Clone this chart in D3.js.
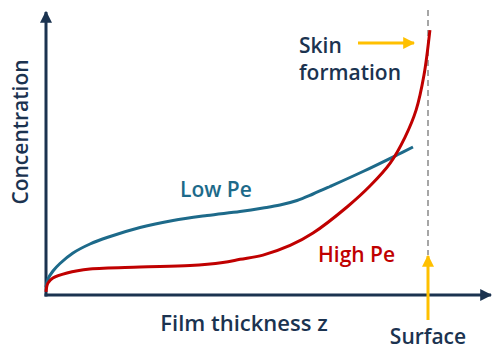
<!DOCTYPE html>
<html>
<head>
<meta charset="utf-8">
<script src="https://cdn.jsdelivr.net/npm/d3@7"></script>
<style>
  body { margin: 0; background: #fff; }
  text { font-family: "Open Sans", "Noto Sans", sans-serif; font-weight: 600; }
</style>
</head>
<body>
<div id="container"></div>
<script>
// film depth (0 = substrate, 100 = surface) vs relative concentration
let lowPeX = [0, 0.52, 1.83, 3.66, 7.07, 11.52, 15.97, 24.61, 33.25, 42.15, 50.79, 56.81, 61.26, 65.71, 69.9, 74.35, 82.98, 91.88, 96.07];
let lowPeY = [2.83, 5.65, 8.48, 11.13, 14.84, 18.02, 20.32, 23.85, 26.33, 28.09, 29.51, 30.74, 31.8, 33.39, 35.69, 38.34, 43.64, 49.47, 52.3];
let highPeX = [0, 0.5, 1.8, 5.5, 11.5, 24.6, 37.7, 46.3, 50.8, 56.8, 63.9, 69.9, 78.8, 84.8, 90.1, 94, 96.9, 98.95, 100.5];
let highPeY = [1.1, 4.2, 6, 7.8, 9.2, 9.9, 10.4, 11.5, 12.6, 14.1, 17.5, 21.9, 31.1, 38.5, 46.6, 55.8, 65.4, 77.7, 93.6];
let surfaceX = 100;

let w = 500;
let h = 363;

let navy = "#1b3350";
let blue = "#1d6a8a";
let red = "#c00000";
let yellow = "#ffc000";

let x = d3.scaleLinear().domain([0, 100]).range([46, 428]);
let y = d3.scaleLinear().domain([0, 100]).range([295, 12]);

let viz = d3.select("#container")
  .append("svg")
  .attr("width", w)
  .attr("height", h);

let defs = viz.append("defs");
function arrowHead(id, color) {
  defs.append("marker")
    .attr("id", id)
    .attr("viewBox", "0 0 10 10")
    .attr("refX", 9)
    .attr("refY", 5)
    .attr("markerWidth", 4)
    .attr("markerHeight", 4)
    .attr("markerUnits", "strokeWidth")
    .attr("orient", "auto")
    .append("path")
    .attr("d", "M0,0 L10,5 L0,10 Z")
    .attr("fill", color);
}
arrowHead("navyArrow", navy);
arrowHead("yellowArrow", yellow);

// surface dashed line
viz.append("line")
  .attr("x1", x(surfaceX)).attr("x2", x(surfaceX))
  .attr("y1", 10).attr("y2", 255)
  .attr("stroke", "#a6a6a6")
  .attr("stroke-width", 2)
  .attr("stroke-dasharray", "6,4");

// axes
viz.append("line")
  .attr("x1", x(0)).attr("y1", y(0) + 1.5)
  .attr("x2", x(0)).attr("y2", 12)
  .attr("stroke", navy).attr("stroke-width", 3)
  .attr("marker-end", "url(#navyArrow)");
viz.append("line")
  .attr("x1", x(0) - 1.5).attr("y1", y(0))
  .attr("x2", 491).attr("y2", y(0))
  .attr("stroke", navy).attr("stroke-width", 3)
  .attr("marker-end", "url(#navyArrow)");

let line = d3.line()
  .x(d => x(d[0]))
  .y(d => y(d[1]))
  .curve(d3.curveCatmullRom.alpha(0.5));

viz.append("path")
  .datum(lowPeX.map((v, i) => [v, lowPeY[i]]))
  .attr("d", line)
  .attr("fill", "none")
  .attr("stroke", blue)
  .attr("stroke-width", 3);

viz.append("path")
  .datum(highPeX.map((v, i) => [v, highPeY[i]]))
  .attr("d", line)
  .attr("fill", "none")
  .attr("stroke", red)
  .attr("stroke-width", 3);

// yellow arrows
viz.append("line")
  .attr("x1", x(surfaceX)).attr("x2", x(surfaceX))
  .attr("y1", 320).attr("y2", 256)
  .attr("stroke", yellow).attr("stroke-width", 3)
  .attr("marker-end", "url(#yellowArrow)");
viz.append("line")
  .attr("x1", 358).attr("x2", 414)
  .attr("y1", 43).attr("y2", 43)
  .attr("stroke", yellow).attr("stroke-width", 3)
  .attr("marker-end", "url(#yellowArrow)");

// labels
viz.append("text")
  .attr("x", 244).attr("y", 331)
  .attr("text-anchor", "middle")
  .attr("font-size", 22)
  .attr("fill", navy)
  .text("Film thickness z");

viz.append("text")
  .attr("transform", "translate(28,132) rotate(-90)")
  .attr("text-anchor", "middle")
  .attr("font-size", 21)
  .attr("fill", navy)
  .text("Concentration");

viz.append("text")
  .attr("x", 428).attr("y", 344)
  .attr("text-anchor", "middle")
  .attr("font-size", 21)
  .attr("fill", navy)
  .text("Surface");

viz.append("text")
  .attr("x", 299).attr("y", 53)
  .attr("font-size", 21)
  .attr("fill", navy)
  .text("Skin");
viz.append("text")
  .attr("x", 299).attr("y", 80)
  .attr("font-size", 21)
  .attr("fill", navy)
  .text("formation");

viz.append("text")
  .attr("x", 180).attr("y", 197)
  .attr("font-size", 21)
  .attr("fill", blue)
  .text("Low Pe");

viz.append("text")
  .attr("x", 318).attr("y", 262)
  .attr("font-size", 21)
  .attr("fill", red)
  .text("High Pe");
</script>
</body>
</html>
